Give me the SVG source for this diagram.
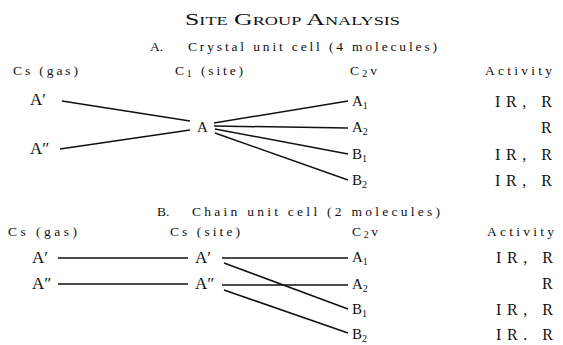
<svg xmlns="http://www.w3.org/2000/svg" width="563" height="345" viewBox="0 0 563 345">
<style>
text{font-family:"Liberation Serif","Times New Roman","DejaVu Serif",serif;fill:#111}
.t{font-size:17px;font-variant:small-caps}
.c{font-size:13.5px}
.h{font-size:13.5px}
.g{font-size:17px}
.s{font-size:15px}
.a{font-size:16px}
.sub{font-size:10px}
#connectors line{stroke:#111;stroke-width:1.5}
</style>
<rect width="563" height="345" fill="#fff"/>
<g id="title"><text class="t" x="185" y="25" textLength="215" lengthAdjust="spacingAndGlyphs">Site Group Analysis</text></g>
<g id="captionA"><text class="c" x="150" y="51">A.</text><text class="c" x="188" y="51" textLength="249">Crystal unit cell (4 molecules)</text></g>
<g id="headersA">
<text class="h" x="13" y="75" textLength="65">Cs (gas)</text>
<text class="h" x="175" y="75" textLength="68">C<tspan class="sub" dy="2">1</tspan><tspan dy="-2"> (site)</tspan></text>
<text class="h" x="350" y="75" textLength="27">C<tspan class="sub" dy="2">2</tspan><tspan dy="-2">v</tspan></text>
<text class="h" x="485" y="75" textLength="67">Activity</text>
</g>
<g id="connectors">
<line x1="62" y1="101" x2="190" y2="121"/>
<line x1="60" y1="149" x2="190" y2="130"/>
<line x1="214" y1="123" x2="348" y2="101"/>
<line x1="214" y1="126" x2="348" y2="128"/>
<line x1="215" y1="129" x2="348" y2="154"/>
<line x1="215" y1="133" x2="348" y2="180"/>
<line x1="58" y1="258" x2="188" y2="258"/>
<line x1="58" y1="284" x2="188" y2="284"/>
<line x1="222" y1="258" x2="348" y2="258"/>
<line x1="222" y1="285" x2="348" y2="285"/>
<line x1="224" y1="263" x2="348" y2="309"/>
<line x1="224" y1="290" x2="348" y2="333"/>
</g>
<g id="nA1"><text class="g" x="30" y="105">A′</text></g>
<g id="nA2"><text class="g" x="30" y="154">A″</text></g>
<g id="nA"><text class="s" x="197" y="132">A</text></g>
<g id="nA_A1"><text class="s" x="352" y="106">A<tspan class="sub" dy="3">1</tspan></text></g>
<g id="nA_A2"><text class="s" x="352" y="132">A<tspan class="sub" dy="3">2</tspan></text></g>
<g id="nA_B1"><text class="s" x="352" y="159">B<tspan class="sub" dy="3">1</tspan></text></g>
<g id="nA_B2"><text class="s" x="352" y="185">B<tspan class="sub" dy="3">2</tspan></text></g>
<g id="actA">
<text class="a" x="495" y="107" textLength="57">IR, R</text>
<text class="a" x="541" y="133">R</text>
<text class="a" x="495" y="160" textLength="57">IR, R</text>
<text class="a" x="495" y="186" textLength="57">IR, R</text>
</g>
<g id="captionB"><text class="c" x="157" y="216">B.</text><text class="c" x="192" y="216" textLength="248">Chain unit cell (2 molecules)</text></g>
<g id="headersB">
<text class="h" x="8" y="236" textLength="69">Cs (gas)</text>
<text class="h" x="170" y="236" textLength="70">Cs (site)</text>
<text class="h" x="352" y="236" textLength="26">C<tspan class="sub" dy="2">2</tspan><tspan dy="-2">v</tspan></text>
<text class="h" x="487" y="236" textLength="67">Activity</text>
</g>
<g id="nB_gA1"><text class="g" x="32" y="263">A′</text></g>
<g id="nB_gA2"><text class="g" x="32" y="289">A″</text></g>
<g id="nB_sA1"><text class="g" x="195" y="263">A′</text></g>
<g id="nB_sA2"><text class="g" x="195" y="289">A″</text></g>
<g id="nB_A1"><text class="s" x="352" y="262">A<tspan class="sub" dy="3">1</tspan></text></g>
<g id="nB_A2"><text class="s" x="352" y="289">A<tspan class="sub" dy="3">2</tspan></text></g>
<g id="nB_B1"><text class="s" x="352" y="314">B<tspan class="sub" dy="3">1</tspan></text></g>
<g id="nB_B2"><text class="s" x="352" y="339">B<tspan class="sub" dy="3">2</tspan></text></g>
<g id="actB">
<text class="a" x="496" y="263" textLength="57">IR, R</text>
<text class="a" x="542" y="289">R</text>
<text class="a" x="496" y="315" textLength="57">IR, R</text>
<text class="a" x="496" y="340" textLength="57">IR. R</text>
</g>
</svg>
